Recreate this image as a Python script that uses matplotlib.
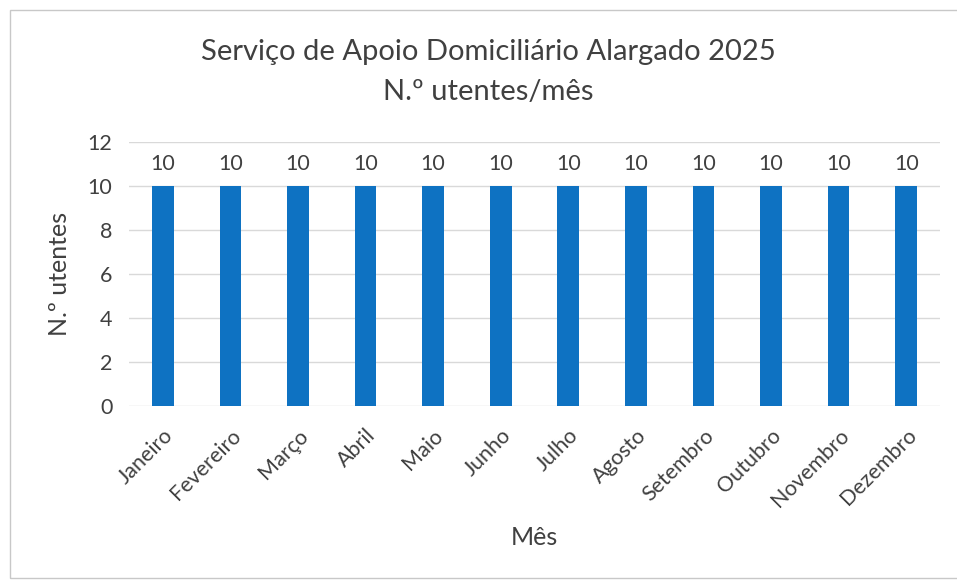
import matplotlib.pyplot as plt
from matplotlib.patches import Rectangle

meses = ["Janeiro", "Fevereiro", "Março", "Abril", "Maio", "Junho", "Julho",
         "Agosto", "Setembro", "Outubro", "Novembro", "Dezembro"]
utentes = [10, 10, 10, 10, 10, 10, 10, 10, 10, 10, 10, 10]
yticks = [0, 2, 4, 6, 8, 10, 12]

plt.rcParams['font.family'] = ['Lato', 'DejaVu Sans']
txt = '#404040'

fig = plt.figure(figsize=(9.57, 5.83), dpi=100)
fig.patches.append(Rectangle((10 / 957, 5 / 583), 950 / 957, 568 / 583,
                             transform=fig.transFigure, fill=False,
                             edgecolor='#c8c8c8', linewidth=1))
ax = fig.add_axes([129 / 957, 1 - 406 / 583, 811 / 957, 264 / 583])

x = list(range(len(meses)))
ax.bar(x, utentes, width=0.32, color='#0E72C2', zorder=3)
for xi, v in zip(x, utentes):
    ax.text(xi, v + 0.55, str(v), ha='center', va='bottom', fontsize=15.5, color=txt)

ax.set_xlim(-0.5, len(meses) - 0.5)
ax.set_ylim(0, 12)
ax.set_yticks(yticks)
ax.set_yticklabels([str(t) for t in yticks], fontsize=15.5, color=txt)
ax.set_xticks(x)
ax.set_xticklabels(meses, rotation=45, ha='right', rotation_mode='anchor',
                   fontsize=15.5, color=txt)
ax.tick_params(axis='y', length=0, pad=12)
ax.tick_params(axis='x', length=0, pad=14)
ax.grid(axis='y', color='#d9d9d9', linewidth=1, zorder=0)
for s in ax.spines.values():
    s.set_visible(False)

ax.set_ylabel("N.º utentes", fontsize=18, color=txt, labelpad=12)
ax.set_xlabel("Mês", fontsize=18, color=txt, labelpad=11)

fig.text(488 / 957, 1 - 52 / 583, "Serviço de Apoio Domiciliário Alargado 2025",
         ha='center', va='center', fontsize=21, color=txt)
fig.text(488 / 957, 1 - 92 / 583, "N.º utentes/mês",
         ha='center', va='center', fontsize=21, color=txt)

fig.savefig('out.png', dpi=100)
